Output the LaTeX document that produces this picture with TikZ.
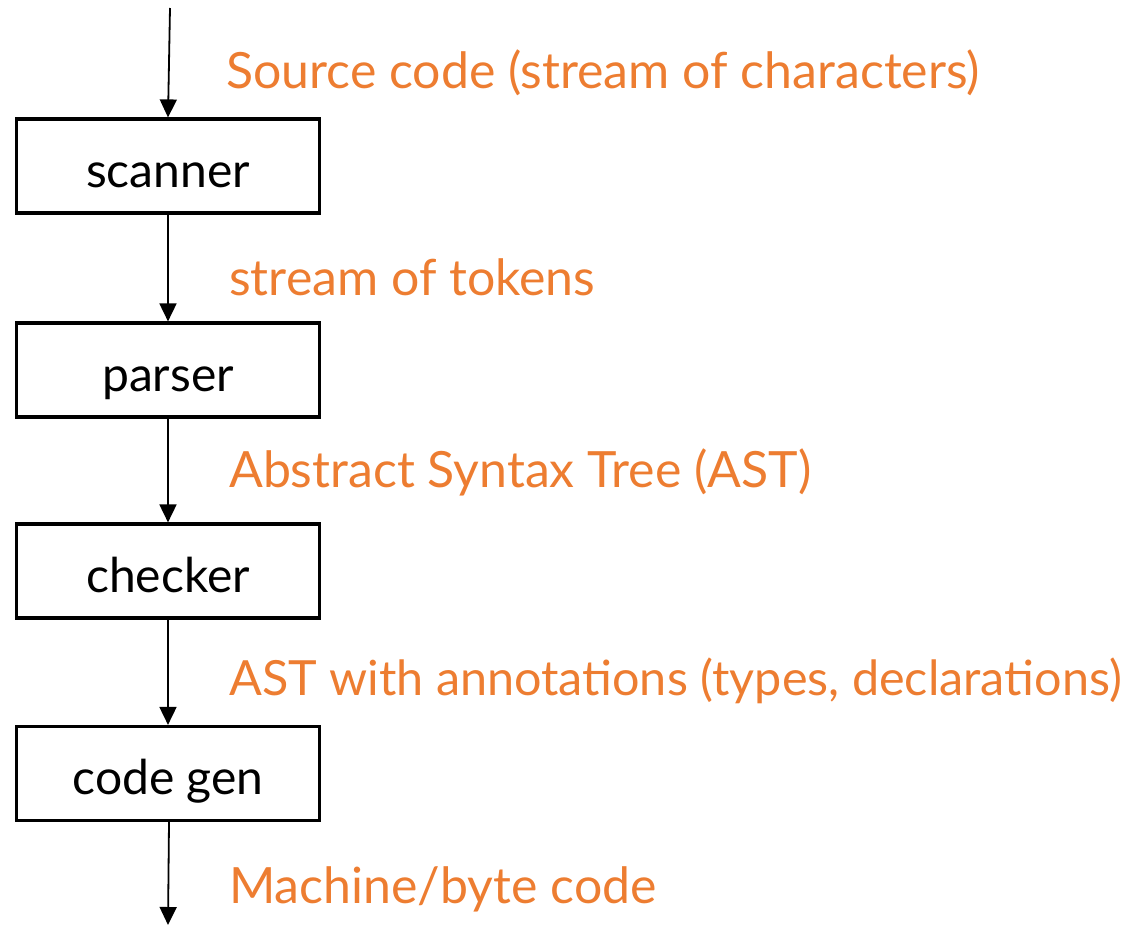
\documentclass[tikz,border=0pt]{standalone}
\usepackage{fontspec}
\setmainfont{Lato}
\usetikzlibrary{arrows.meta}
\definecolor{lblorange}{HTML}{ED7D31}
\begin{document}
\begin{tikzpicture}[x=1pt,y=-1pt,
  stage/.style={draw=black, line width=3.2pt, minimum width=303pt, minimum height=94pt, inner sep=0pt, text height=42pt, text depth=0pt, font=\fontsize{48}{56}\selectfont},
  flow/.style={line width=1.8pt, -{Triangle[length=18pt,width=17pt]}},
  lbl/.style={anchor=base west, text=lblorange, inner sep=0pt, font=\fontsize{50}{58}\selectfont}]
\useasboundingbox (0,0) rectangle (1146,927);
\node[stage] (scanner) at (168,166) {scanner};
\node[stage] (parser) at (168,370) {parser};
\node[stage] (checker) at (168,571) {checker};
\node[stage] (codegen) at (168,773.5) {code gen};
\coordinate (top) at (170,8);
\coordinate (bot) at (168,925);
\draw[flow] (top) -- (scanner.north -| 168,0);
\draw[flow] (scanner) -- (parser);
\draw[flow] (parser) -- (checker);
\draw[flow] (checker) -- (codegen);
\draw[flow] (codegen.south -| 169,0) -- (bot);
\node[lbl] (l1) at (226,88) {Source code (stream of characters)};
\node[lbl] (l2) at (229,295) {stream of tokens};
\node[lbl] (l3) at (229,487) {Abstract Syntax Tree (AST)};
\node[lbl, font=\fontsize{48.5}{56}\selectfont] (l4) at (229,695) {AST with annotations (types, declarations)};
\node[lbl] (l5) at (229,903) {Machine/byte code};
\end{tikzpicture}
\end{document}
